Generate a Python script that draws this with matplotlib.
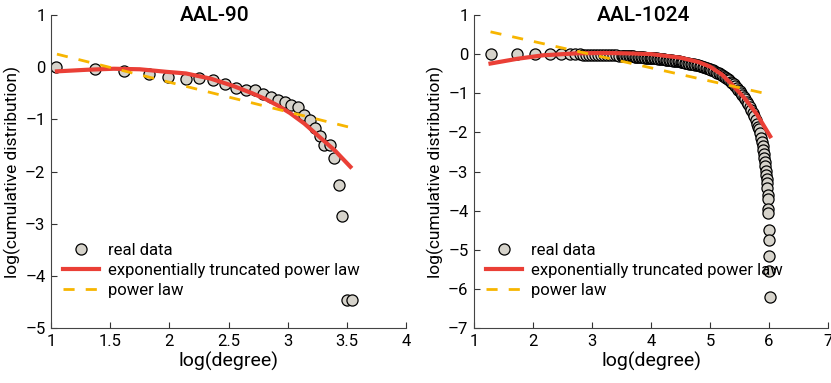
import matplotlib
matplotlib.use('Agg')
from matplotlib import pyplot as plt

plt.rcParams['font.family'] = ['Roboto', 'DejaVu Sans']

# ---- AAL-90 ----
aal90_x = [1.04, 1.37, 1.62, 1.83, 1.99, 2.14, 2.25, 2.37, 2.47, 2.56, 2.65, 2.72,
           2.79, 2.86, 2.92, 2.98, 3.03, 3.09, 3.14, 3.19, 3.23, 3.27, 3.31, 3.36,
           3.39, 3.43, 3.46, 3.50, 3.54]
aal90_y = [0.0, -0.03, -0.08, -0.13, -0.19, -0.22, -0.21, -0.25, -0.32, -0.39, -0.43, -0.44,
           -0.51, -0.57, -0.62, -0.67, -0.72, -0.77, -0.92, -1.01, -1.16, -1.32, -1.50, -1.50,
           -1.74, -2.25, -2.85, -4.46, -4.46]
aal90_fit_x = [1.05, 1.30, 1.53, 1.75, 1.98, 2.14, 2.35, 2.54, 2.70, 2.82, 2.92, 3.02, 3.14, 3.25, 3.40, 3.53]
aal90_fit_y = [-0.08, -0.05, -0.03, -0.04, -0.09, -0.12, -0.22, -0.36, -0.50, -0.62, -0.74, -0.88, -1.08, -1.30, -1.60, -1.91]
aal90_pl_x = [1.05, 3.52]
aal90_pl_y = [0.25, -1.15]

# ---- AAL-1024 ----
aal1024_x = [1.28, 1.73, 2.04, 2.28, 2.47, 2.62, 2.72,
             2.80, 2.85, 2.90, 2.95, 3.00, 3.05, 3.10, 3.15, 3.20, 3.25, 3.30, 3.35, 3.40, 3.45,
             3.500, 3.525, 3.550, 3.575, 3.600, 3.625, 3.650, 3.675, 3.700, 3.725, 3.750, 3.775,
             3.800, 3.825, 3.850, 3.875, 3.900, 3.925, 3.950, 3.975, 4.000, 4.025, 4.050, 4.075,
             4.100, 4.125, 4.150, 4.175, 4.200, 4.225, 4.250, 4.275, 4.300, 4.325, 4.350, 4.375,
             4.400, 4.425, 4.450, 4.475, 4.500, 4.525, 4.550, 4.575, 4.600, 4.625, 4.650, 4.675,
             4.700, 4.725, 4.750, 4.775, 4.800, 4.825, 4.850, 4.875, 4.900, 4.925, 4.950, 4.975,
             5.000, 5.025, 5.050, 5.075, 5.100, 5.125, 5.150, 5.175, 5.200, 5.225, 5.250, 5.275,
             5.300, 5.325, 5.350, 5.375, 5.400, 5.425, 5.450, 5.475, 5.500, 5.525, 5.550, 5.575,
             5.600, 5.625, 5.650, 5.675, 5.700, 5.725, 5.750, 5.775, 5.800, 5.815,
             5.83, 5.85, 5.87, 5.88, 5.89, 5.90, 5.91, 5.92, 5.93, 5.94, 5.95, 5.955, 5.96,
             5.965, 5.97, 5.975, 5.98, 5.985, 5.99, 6.00, 6.00, 6.00, 6.00, 6.01]
aal1024_y = [0.0, 0.0, 0.0, 0.0, 0.0, 0.0, 0.0,
             0.0, -0.01, -0.01, -0.01, -0.01, -0.01, -0.02, -0.02, -0.02, -0.02, -0.03, -0.03, -0.03, -0.035,
             -0.040, -0.045, -0.050, -0.050, -0.050, -0.055, -0.060, -0.060, -0.060, -0.065, -0.070, -0.070,
             -0.070, -0.075, -0.080, -0.085, -0.090, -0.090, -0.090, -0.095, -0.100, -0.105, -0.110, -0.110,
             -0.110, -0.115, -0.120, -0.125, -0.130, -0.135, -0.140, -0.145, -0.150, -0.155, -0.160, -0.165,
             -0.170, -0.175, -0.180, -0.185, -0.190, -0.200, -0.210, -0.215, -0.220, -0.230, -0.240, -0.245,
             -0.250, -0.260, -0.270, -0.280, -0.290, -0.300, -0.310, -0.320, -0.330, -0.345, -0.360, -0.370,
             -0.380, -0.395, -0.410, -0.430, -0.450, -0.470, -0.490, -0.510, -0.530, -0.555, -0.580, -0.610,
             -0.640, -0.670, -0.700, -0.735, -0.770, -0.815, -0.860, -0.905, -0.950, -1.000, -1.050, -1.100,
             -1.150, -1.215, -1.280, -1.350, -1.420, -1.500, -1.580, -1.680, -1.780, -1.850,
             -1.92, -2.02, -2.14, -2.25, -2.35, -2.45, -2.55, -2.65, -2.75, -2.85, -2.98, -3.10, -3.20,
             -3.30, -3.42, -3.60, -3.70, -3.95, -4.05, -4.50, -4.75, -5.15, -5.55, -6.20]
aal1024_fit_x = [1.28, 1.73, 2.17, 2.73, 3.20, 3.60, 4.00, 4.50, 4.80, 5.00, 5.20, 5.40, 5.60, 5.80, 6.02]
aal1024_fit_y = [-0.24, -0.12, -0.03, 0.02, 0.03, 0.02, 0.00, -0.09, -0.20, -0.32, -0.52, -0.82, -1.15, -1.55, -2.10]
aal1024_pl_x = [1.28, 5.98]
aal1024_pl_y = [0.57, -1.02]

panels = [
    ('AAL-90', aal90_x, aal90_y, aal90_fit_x, aal90_fit_y, aal90_pl_x, aal90_pl_y,
     (1, 4), (-5, 1), [1, 1.5, 2, 2.5, 3, 3.5, 4], ['1', '1.5', '2', '2.5', '3', '3.5', '4'],
     [0.0614, 0.1436, 0.4272, 0.8172], 0.46),
    ('AAL-1024', aal1024_x, aal1024_y, aal1024_fit_x, aal1024_fit_y, aal1024_pl_x, aal1024_pl_y,
     (1, 7), (-7, 1), [1, 2, 3, 4, 5, 6, 7], ['1', '2', '3', '4', '5', '6', '7'],
     [0.5704, 0.1436, 0.4260, 0.8172], 0.48),
]

fig = plt.figure(figsize=(8.31, 3.83), dpi=100)

for (title, x, y, fx, fy, px, py, xlim, ylim, xt, xtl, pos, tx) in panels:
    ax = fig.add_axes(pos)
    ax.plot(x, y, 'o', ms=8, mfc='#d6d3cb', mec='black', mew=0.9, label='real data', zorder=2)
    ax.plot(fx, fy, '-', color='#ea3f36', lw=3, label='exponentially truncated power law', zorder=3)
    ax.plot(px, py, '--', color='#f7b500', lw=2, dashes=(4, 4), label='power law', zorder=4)
    ax.set_xlim(*xlim)
    ax.set_ylim(*ylim)
    ax.set_xticks(xt)
    ax.set_xticklabels(xtl)
    ax.set_yticks(range(ylim[0], ylim[1] + 1))
    ax.set_yticklabels([str(v).replace('-', '\u2013') for v in range(ylim[0], ylim[1] + 1)])
    ax.tick_params(direction='in', length=4, width=0.8, labelsize=12, colors='#333333',
                   labelcolor='black', pad=4)
    for s in ['top', 'right']:
        ax.spines[s].set_visible(False)
    for s in ['left', 'bottom']:
        ax.spines[s].set_color('#444444')
        ax.spines[s].set_linewidth(0.8)
    ax.set_xlabel('log(degree)', fontsize=14, labelpad=2)
    ax.set_ylabel('log(cumulative distribution)', fontsize=12.5, labelpad=3)
    ax.text(tx, 1.0, title, transform=ax.transAxes, ha='center', va='center',
            fontsize=15, fontweight='medium')
    ax.legend(loc='upper left', bbox_to_anchor=(0.0, 0.31), frameon=False, fontsize=12,
              handlelength=2.2, handletextpad=0.5, labelspacing=0.3, borderaxespad=0.3)

fig.savefig('out.png', dpi=100)
